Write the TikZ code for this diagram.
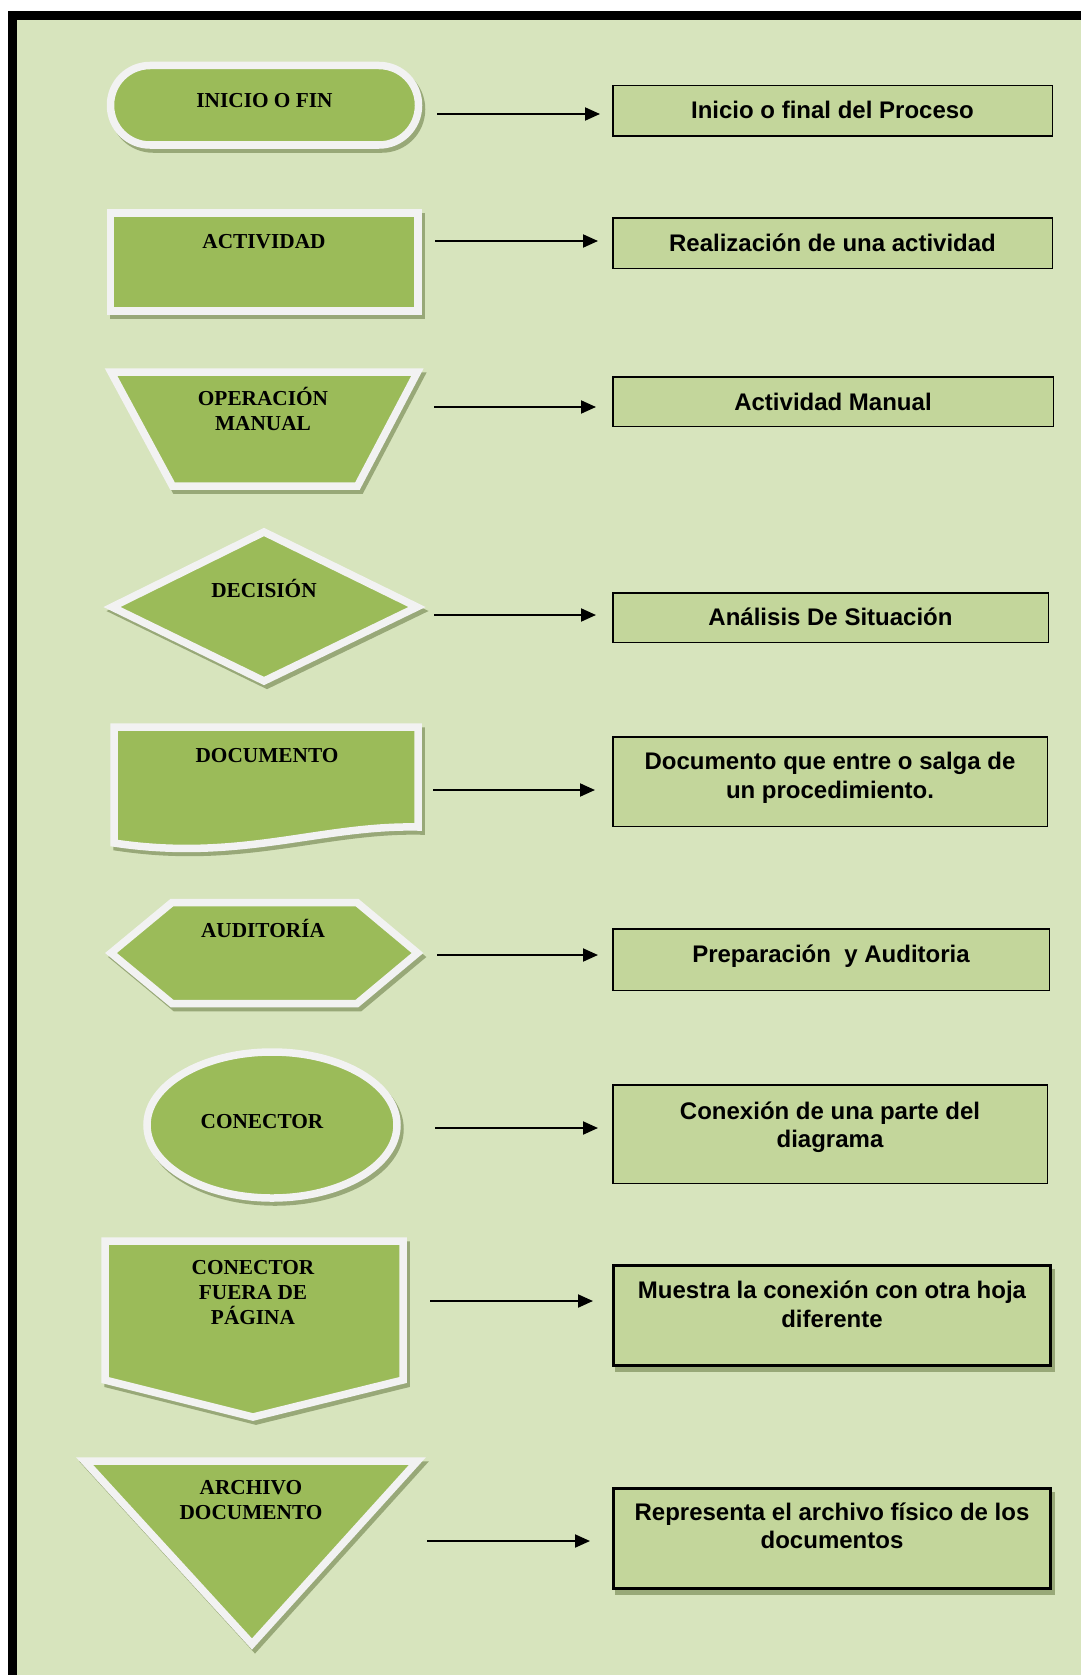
\documentclass[tikz,border=0pt]{standalone}
\usepackage{fontspec}
\setmainfont{Liberation Serif}
\newfontfamily\labelsans{Liberation Sans}
\usetikzlibrary{arrows.meta}

\definecolor{pagebg}{HTML}{D7E4BD}
\definecolor{boxfill}{HTML}{C3D69B}
\definecolor{symgreen}{HTML}{9BBB59}
\definecolor{symrim}{HTML}{F2F2F2}
\definecolor{symshade}{HTML}{98A878}

\begin{document}
\begin{tikzpicture}[x=1pt,y=-1pt,
  symbol/.style={fill=symgreen, draw=symrim, line width=7.5pt, line join=miter, miter limit=10,
    preaction={fill=symshade, draw=symshade, line width=7.5pt,
      transform canvas={shift={(3pt,-4pt)}}}},
  symtext/.style={font=\fontsize{21.3}{25}\selectfont\bfseries, inner sep=0pt,
    anchor=base, align=center},
  descbox/.style={draw=black, line width=1.5pt, fill=boxfill, inner sep=0pt},
  descboxdeep/.style={draw=black, line width=3pt, fill=boxfill, inner sep=0pt,
    preaction={fill=symshade, draw=symshade, line width=3pt,
      transform canvas={shift={(2.5pt,-5pt)}}}},
  desctext/.style={font=\labelsans\fontsize{24}{28.5}\selectfont\bfseries, inner sep=0pt,
    anchor=base, align=center},
  link/.style={line width=2pt, -{Triangle[length=15pt,width=13pt]}}
]
\useasboundingbox (0,0) rectangle (1081,1675);

% page frame
\fill[white] (0,0) rectangle (1081,1675);
\fill[black] (8,11) rectangle (1081,1675);
\fill[pagebg] (17,20) rectangle (1081,1675);

% ---------- flowchart symbols ----------
% terminal
\draw[symbol, rounded corners=39.5pt] (110.5,65.5) rectangle (418.5,145);
% process
\draw[symbol] (110.5,213) rectangle (418,311);
% manual operation
\draw[symbol] (111,372) -- (417.5,372) -- (357.5,486) -- (172.5,486) -- cycle;
% decision
\draw[symbol] (264,532) -- (417,607) -- (264,681) -- (112,607) -- cycle;
% document
\draw[symbol] (114,727) -- (418,727) -- (418,827)
  .. controls (320,825) and (240,862) .. (114,843) -- cycle;
% preparation
\draw[symbol] (172,902.5) -- (357,902.5) -- (417.5,953) -- (357,1003.5)
  -- (172,1003.5) -- (111,953) -- cycle;
% connector
\draw[symbol] (272,1125) ellipse [x radius=125, y radius=73];
% off-page connector
\draw[symbol] (105,1241) -- (403,1241) -- (403,1380) -- (253,1417) -- (105,1380) -- cycle;
% storage
\draw[symbol] (84.5,1461) -- (417.5,1461) -- (252,1644) -- cycle;

% symbol captions (base anchor sits on the last line)
\node[symtext] (t1) at (264.5,107.3) {INICIO O FIN};
\node[symtext] (t2) at (264,248) {ACTIVIDAD};
\node[symtext] (t3) at (263,430) {OPERACIÓN\\MANUAL};
\node[symtext] (t4) at (264,597) {DECISIÓN};
\node[symtext] (t5) at (267,762) {DOCUMENTO};
\node[symtext] (t6) at (263,937) {AUDITORÍA};
\node[symtext] (t7) at (262,1128) {CONECTOR};
\node[symtext] (t8) at (253,1324) {CONECTOR\\FUERA DE\\PÁGINA};
\node[symtext] (t9) at (251,1519) {ARCHIVO\\DOCUMENTO};

% ---------- description boxes ----------
\node[descbox, minimum width=439.5pt, minimum height=50.5pt] (b1) at (832.5,111) {};
\node[descbox, minimum width=439.5pt, minimum height=50.5pt] (b2) at (832.5,243) {};
\node[descbox, minimum width=440.5pt, minimum height=49.5pt] (b3) at (833,401.5) {};
\node[descbox, minimum width=435.5pt, minimum height=49.5pt] (b4) at (830.5,617.5) {};
\node[descbox, minimum width=434.5pt, minimum height=89.5pt] (b5) at (830,781.5) {};
\node[descbox, minimum width=436.5pt, minimum height=61.5pt] (b6) at (831,959.5) {};
\node[descbox, minimum width=434.5pt, minimum height=98.5pt] (b7) at (830,1134) {};
\node[descboxdeep, minimum width=437pt, minimum height=100pt] (b8) at (832,1315.5) {};
\node[descboxdeep, minimum width=437pt, minimum height=100pt] (b9) at (832,1538.5) {};

\node[desctext] (d1) at (832.5,119) {Inicio o final del Proceso};
\node[desctext] (d2) at (832.5,251) {Realización de una actividad};
\node[desctext] (d3) at (833,410.5) {Actividad Manual};
\node[desctext] (d4) at (830.5,625.5) {Análisis De Situación};
\node[desctext] (d5) at (830,798) {Documento que entre o salga de\\un procedimiento.};
\node[desctext] (d6) at (831,962.5) {Preparación~ y Auditoria};
\node[desctext] (d7) at (830,1147.5) {Conexión de una parte del\\diagrama};
\node[desctext] (d8) at (832,1327) {Muestra la conexión con otra hoja\\diferente};
\node[desctext] (d9) at (832,1548.5) {Representa el archivo físico de los\\documentos};

% ---------- connectors ----------
\coordinate (s1) at (437,114);
\coordinate (s2) at (435,241);
\coordinate (s3) at (434,407);
\coordinate (s4) at (434,615);
\coordinate (s5) at (433,790);
\coordinate (s6) at (437,955);
\coordinate (s7) at (435,1128);
\coordinate (s8) at (430,1301);
\coordinate (s9) at (427,1541);

\draw[link, shorten >=12pt] (s1) -- (s1 -| b1.west);
\draw[link, shorten >=14pt] (s2) -- (s2 -| b2.west);
\draw[link, shorten >=16pt] (s3) -- (s3 -| b3.west);
\draw[link, shorten >=16pt] (s4) -- (s4 -| b4.west);
\draw[link, shorten >=17pt] (s5) -- (s5 -| b5.west);
\draw[link, shorten >=14pt] (s6) -- (s6 -| b6.west);
\draw[link, shorten >=14pt] (s7) -- (s7 -| b7.west);
\draw[link, shorten >=19pt] (s8) -- (s8 -| b8.west);
\draw[link, shorten >=22pt] (s9) -- (s9 -| b9.west);
\end{tikzpicture}
\end{document}
